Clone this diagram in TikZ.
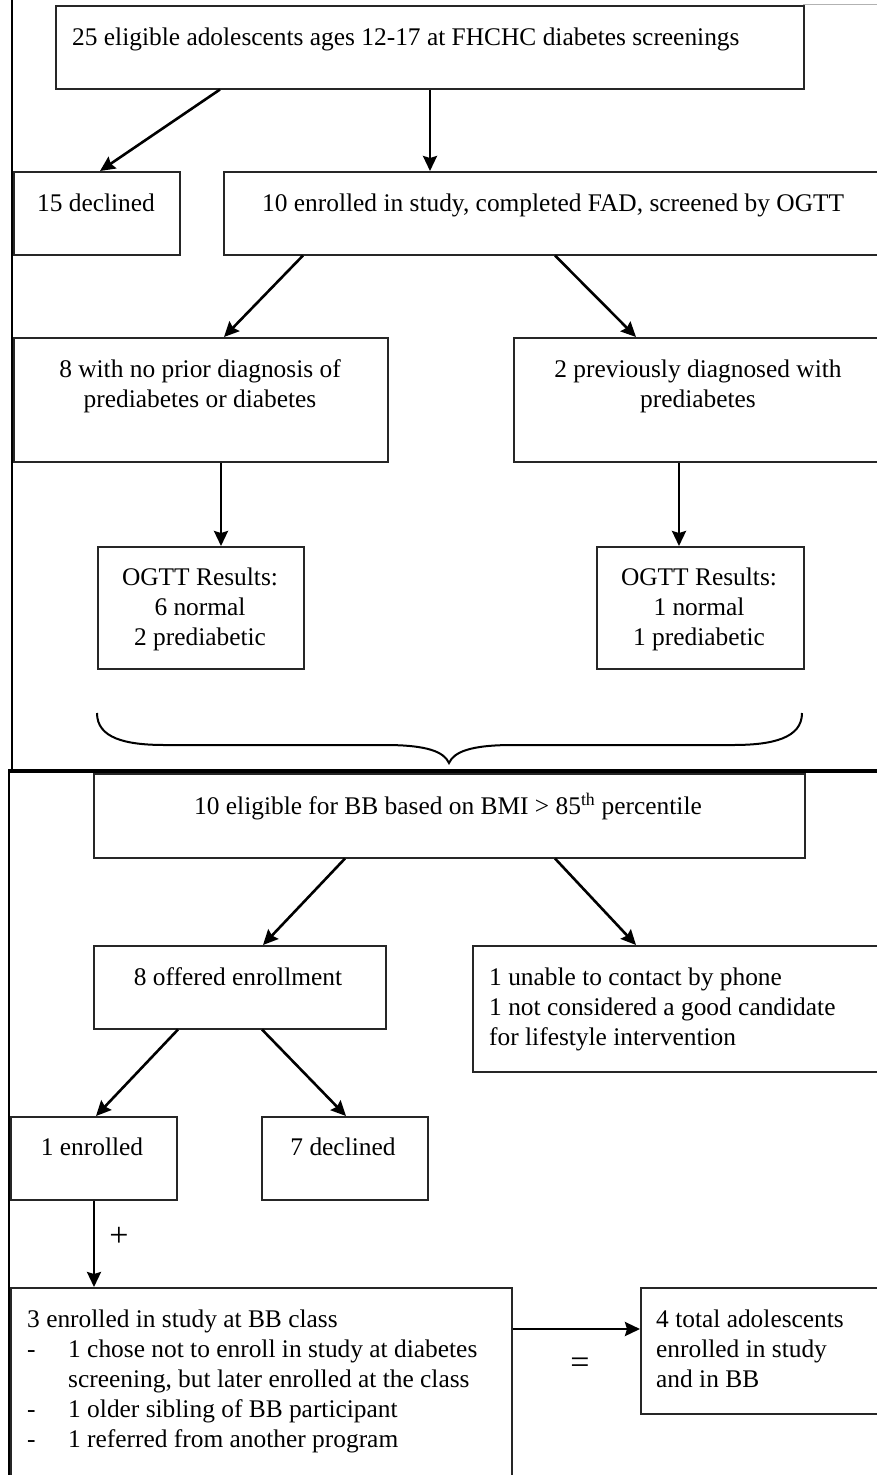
\documentclass[tikz,border=0pt]{standalone}
\usepackage{fontspec}
\setmainfont{Liberation Serif}
\usetikzlibrary{arrows.meta}
\begin{document}
\begin{tikzpicture}[x=1pt,y=-1pt,
  box/.style={draw=black!85,line width=1.5pt,inner sep=0pt,anchor=north west},
  txt/.style={inner sep=0pt,font=\fontsize{25.4}{30}\selectfont},
  sym/.style={inner sep=0pt,font=\fontsize{34}{34}\selectfont},
  arr/.style={line width=2.6pt,-{Stealth[length=15pt,width=14pt,inset=2pt]}},
  frame/.style={line width=2.4pt,black}]
\useasboundingbox (0,0) rectangle (877,1475);
\clip (0,0) rectangle (877,1475);
% frame
\draw[frame] (12,0) -- (12,771);
\draw[line width=3.5pt] (8,771) -- (877,771);
\draw[frame] (9,771) -- (9,1475);
\draw[black!30,line width=1pt] (803,4) -- (877,4);
% top part
\node[box,minimum width=748pt,minimum height=83pt] (top) at (55,5) {};
\node[txt,anchor=north west] (topt) at (72,24) {\strut 25 eligible adolescents ages 12-17 at FHCHC diabetes screenings};
\node[box,minimum width=166pt,minimum height=83pt] (decl) at (13,171) {};
\node[txt,anchor=north] (declt) at (96,190) {\strut 15 declined};
\node[box,minimum width=667pt,minimum height=83pt] (enr) at (223,171) {};
\node[txt,anchor=north west] (enrt) at (262,190) {\strut 10 enrolled in study, completed FAD, screened by OGTT};
\node[box,minimum width=374pt,minimum height=124pt] (nop) at (13,337) {};
\node[txt,anchor=north,align=center] (nopt) at (200,356) {\strut 8 with no prior diagnosis of\\prediabetes or diabetes};
\node[box,minimum width=377pt,minimum height=124pt] (prev) at (513,337) {};
\node[txt,anchor=north,align=center] (prevt) at (698,356) {\strut 2 previously diagnosed with\\prediabetes};
\node[box,minimum width=206pt,minimum height=122pt] (og1) at (97,546) {};
\node[txt,anchor=north,align=center] (og1t) at (200,564) {\strut OGTT Results:\\6 normal\\2 prediabetic};
\node[box,minimum width=207pt,minimum height=122pt] (og2) at (596,546) {};
\node[txt,anchor=north,align=center] (og2t) at (699,564) {\strut OGTT Results:\\1 normal\\1 prediabetic};
\draw[arr] ([xshift=165pt]top.south west) -- ([xshift=87pt]decl.north west);
\draw[arr] ([xshift=375pt]top.south west) -- ([xshift=207pt]enr.north west);
\draw[arr] ([xshift=80pt]enr.south west) -- ([xshift=211pt]nop.north west);
\draw[arr] ([xshift=332pt]enr.south west) -- ([xshift=123pt]prev.north west);
\draw[arr] ([xshift=208pt]nop.south west) -- ([xshift=124pt]og1.north west);
\draw[arr] ([xshift=166pt]prev.south west) -- ([xshift=83pt]og2.north west);
% brace
\draw[line width=2pt] (97,713) .. controls (97,738) and (125,745) .. (165,745) -- (385,745)
  .. controls (428,745) and (444,752) .. (449,763)
  .. controls (454,752) and (470,745) .. (513,745) -- (733,745)
  .. controls (773,745) and (802,738) .. (802,713);
% bottom part
\node[box,minimum width=711pt,minimum height=84pt] (elig) at (93,773) {};
\node[txt,anchor=north] (eligt) at (448,793) {\strut 10 eligible for BB based on BMI > 85\textsuperscript{th} percentile};
\node[box,minimum width=292pt,minimum height=83pt] (off) at (93,945) {};
\node[txt,anchor=north] (offt) at (238,964) {\strut 8 offered enrollment};
\node[box,minimum width=418pt,minimum height=126pt] (unab) at (472,945) {};
\node[txt,anchor=north west,align=left] (unabt) at (489,964) {\strut 1 unable to contact by phone\\1 not considered a good candidate\\for lifestyle intervention};
\node[box,minimum width=166pt,minimum height=83pt] (enr1) at (10,1116) {};
\node[txt,anchor=north] (enr1t) at (92,1134) {\strut 1 enrolled};
\node[box,minimum width=166pt,minimum height=83pt] (dec7) at (261,1116) {};
\node[txt,anchor=north] (dec7t) at (343,1134) {\strut 7 declined};
\node[box,minimum width=501pt,minimum height=200pt] (three) at (10,1287) {};
\node[txt,anchor=north west,align=left] (threet) at (27,1306) {\strut 3 enrolled in study at BB class\\
\makebox[41pt][l]{-}1 chose not to enroll in study at diabetes\\
\hspace*{41pt}screening, but later enrolled at the class\\
\makebox[41pt][l]{-}1 older sibling of BB participant\\
\makebox[41pt][l]{-}1 referred from another program};
\node[box,minimum width=250pt,minimum height=126pt] (four) at (640,1287) {};
\node[txt,anchor=north west,align=left] (fourt) at (656,1306) {\strut 4 total adolescents\\enrolled in study\\and in BB};
\draw[arr] ([xshift=252pt]elig.south west) -- ([xshift=170pt]off.north west);
\draw[arr] ([xshift=462pt]elig.south west) -- ([xshift=164pt]unab.north west);
\draw[arr] ([xshift=85pt]off.south west) -- ([xshift=86pt]enr1.north west);
\draw[arr] ([xshift=169pt]off.south west) -- ([xshift=85pt]dec7.north west);
\draw[arr] ([xshift=84pt]enr1.south west) -- ([xshift=84pt]three.north west);
\draw[arr] ([yshift=-42pt]three.north east) -- ([yshift=-42pt]four.north west);
\node[sym] (plus) at (119,1237) {+};
\node[sym] (eq) at (580,1366) {=};
\end{tikzpicture}
\end{document}
